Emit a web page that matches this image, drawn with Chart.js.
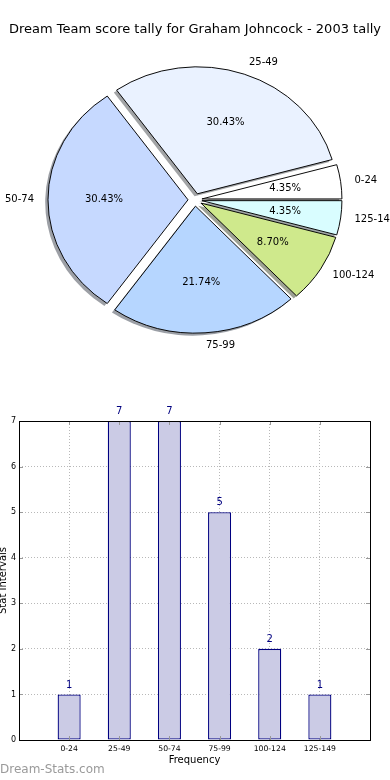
<!DOCTYPE html>
<html>
<head>
<meta charset="utf-8">
<script src="https://cdn.jsdelivr.net/npm/chart.js@4/dist/chart.umd.min.js"></script>
<style>
  body { margin: 0; background: #fff; width: 390px; height: 780px; position: relative; overflow: hidden; }
  #pieChart { position: absolute; left: 0; top: 0; }
  #barChart { position: absolute; left: 0; top: 380px; }
  .watermark { position: absolute; left: 0; top: 762px; font: 12px 'DejaVu Sans'; color: #9a9a9a; }
</style>
</head>
<body>
<canvas id="pieChart" width="390" height="362"></canvas>
<canvas id="barChart" width="390" height="400"></canvas>
<div class="watermark">Dream-Stats.com</div>
<script>
const titleText = 'Dream Team score tally for Graham Johncock - 2003 tally';
const categories = ['0-24', '25-49', '50-74', '75-99', '100-124', '125-149'];
const counts = [1, 7, 7, 5, 2, 1];
const sliceColors = ['#ffffff', '#eaf2ff', '#c6d9ff', '#b6d6ff', '#cfe98c', '#d9fdff'];
const yMax = 7;

Chart.defaults.font.family = "'DejaVu Sans'";
Chart.defaults.color = '#000';

// pie wedges go counter-clockwise from 3 o'clock, chart.js goes clockwise -> reverse
const pieLabels = categories.slice().reverse();
const pieValues = counts.slice().reverse();
const pieColors = sliceColors.slice().reverse();
const total = counts.reduce((a, b) => a + b, 0);

const SQUASH = 0.907;   // the pie is an ellipse in the original
const EXPLODE = 7;

function shadowOf(hex) {
    const n = parseInt(hex.slice(1), 16);
    const r = Math.round(((n >> 16) & 255) * 0.3);
    const g = Math.round(((n >> 8) & 255) * 0.3);
    const b = Math.round((n & 255) * 0.3);
    return `rgba(${r},${g},${b},0.5)`;
}

const piePlugin = {
    id: 'explodedPie',
    beforeDatasetsDraw(chart) {
        const ctx = chart.ctx;
        const arcs = chart.getDatasetMeta(0).data;
        const cx = arcs[0].x, cy = arcs[0].y;

        ctx.save();
        ctx.translate(cx, cy);
        ctx.scale(1, SQUASH);
        ctx.translate(-cx, -cy);

        // shadows first, under every wedge
        arcs.forEach((a, i) => {
            const mid = (a.startAngle + a.endAngle) / 2;
            const ox = Math.cos(mid) * EXPLODE - 2.8;
            const oy = Math.sin(mid) * EXPLODE + 2.8;
            ctx.fillStyle = shadowOf(pieColors[i]);
            ctx.beginPath();
            ctx.moveTo(a.x + ox, a.y + oy);
            ctx.arc(a.x + ox, a.y + oy, a.outerRadius, a.startAngle, a.endAngle);
            ctx.closePath();
            ctx.fill();
        });

        arcs.forEach(a => {
            const mid = (a.startAngle + a.endAngle) / 2;
            ctx.save();
            ctx.translate(Math.cos(mid) * EXPLODE, Math.sin(mid) * EXPLODE);
            a.draw(ctx);
            ctx.restore();
        });
        ctx.restore();

        // labels outside, percentages inside
        ctx.save();
        ctx.font = "10px 'DejaVu Sans'";
        ctx.fillStyle = '#000';
        ctx.textBaseline = 'middle';
        arcs.forEach((a, i) => {
            const mid = (a.startAngle + a.endAngle) / 2;
            const c = Math.cos(mid), s = Math.sin(mid);
            const r = a.outerRadius;
            const lx = cx + c * (EXPLODE + 1.1 * r);
            const ly = cy + s * (EXPLODE + 1.1 * r) * SQUASH;
            ctx.textAlign = c < 0 ? 'right' : 'left';
            ctx.fillText(pieLabels[i], lx, ly);

            const px = cx + c * (EXPLODE + 0.6 * r);
            const py = cy + s * (EXPLODE + 0.6 * r) * SQUASH;
            ctx.textAlign = 'center';
            ctx.fillText((pieValues[i] / total * 100).toFixed(2) + '%', px, py);
        });
        ctx.restore();
        return false;
    }
};

new Chart(document.getElementById('pieChart'), {
    type: 'pie',
    data: {
        labels: pieLabels,
        datasets: [{
            data: pieValues,
            backgroundColor: pieColors,
            borderColor: '#000',
            borderWidth: 1,
            offset: 0,
            hoverOffset: 0
        }]
    },
    options: {
        responsive: false,
        animation: false,
        events: [],
        rotation: 90,
        radius: 140,
        layout: { padding: 0 },
        plugins: {
            legend: { display: false },
            tooltip: { enabled: false },
            title: {
                display: true,
                text: titleText,
                color: '#000',
                font: { size: 13, weight: 'normal' },
                padding: { top: 22, bottom: 0 }
            }
        }
    },
    plugins: [piePlugin]
});

const barExtras = {
    id: 'barExtras',
    afterDatasetsDraw(chart) {
        const ctx = chart.ctx;
        const bars = chart.getDatasetMeta(0).data;
        ctx.save();
        ctx.font = "10px 'DejaVu Sans'";
        ctx.fillStyle = '#000080';
        ctx.textAlign = 'center';
        ctx.textBaseline = 'middle';
        bars.forEach((b, i) => {
            ctx.fillText(String(counts[i]), b.x, b.y - 9.5);
        });
        ctx.restore();
    },
    afterDraw(chart) {
        const ctx = chart.ctx;
        const { left, right, top, bottom } = chart.chartArea;
        const xs = chart.scales.x, ys = chart.scales.y;
        ctx.save();
        // small inward ticks
        ctx.strokeStyle = '#999';
        ctx.lineWidth = 1;
        ctx.beginPath();
        categories.forEach((c, i) => {
            const x = Math.round(xs.getPixelForValue(i)) + 0.5;
            ctx.moveTo(x, top); ctx.lineTo(x, top + 4);
            ctx.moveTo(x, bottom); ctx.lineTo(x, bottom - 4);
        });
        for (let v = 1; v < yMax; v++) {
            const y = Math.round(ys.getPixelForValue(v)) + 0.5;
            ctx.moveTo(left, y); ctx.lineTo(left + 4, y);
            ctx.moveTo(right, y); ctx.lineTo(right - 4, y);
        }
        ctx.stroke();
        // axes frame
        ctx.strokeStyle = '#000';
        ctx.strokeRect(Math.round(left) + 0.5, Math.round(top) + 0.5,
            Math.round(right - left), Math.round(bottom - top));
        ctx.restore();
    }
};

new Chart(document.getElementById('barChart'), {
    type: 'bar',
    data: {
        datasets: [{
            data: counts.map((c, i) => ({ x: i, y: c })),
            backgroundColor: '#cbcbe5',
            borderColor: '#000080',
            borderWidth: 1.3,
            borderSkipped: false,
            categoryPercentage: 1,
            barPercentage: 0.46
        }]
    },
    options: {
        responsive: false,
        animation: false,
        events: [],
        layout: { padding: { top: 41, right: 20, left: 0, bottom: 0 } },
        plugins: {
            legend: { display: false },
            tooltip: { enabled: false }
        },
        scales: {
            x: {
                type: 'linear',
                min: -1,
                max: categories.length,
                offset: false,
                z: 1,
                afterFit: (scale) => { scale.height = 40; },
                grid: { offset: false, color: '#b8b8b8', drawTicks: false },
                border: { display: false, dash: [1, 2] },
                ticks: {
                    stepSize: 1,
                    padding: 4,
                    font: { size: 7.7 },
                    color: '#000',
                    callback: (v) => categories[v] ?? ''
                },
                title: {
                    display: true,
                    text: 'Frequency',
                    font: { size: 10 },
                    color: '#000',
                    padding: { top: 0, bottom: 14 }
                }
            },
            y: {
                min: 0,
                max: yMax,
                z: 1,
                afterFit: (scale) => { scale.width = 19; },
                grid: { color: '#b8b8b8', drawTicks: false },
                border: { display: false, dash: [1, 2] },
                ticks: {
                    stepSize: 1,
                    padding: 3,
                    font: { size: 8 },
                    color: '#000'
                },
                title: {
                    display: true,
                    text: 'Stat Intervals',
                    font: { size: 10 },
                    color: '#000',
                    padding: { top: -2.5, bottom: 0 }
                }
            }
        }
    },
    plugins: [barExtras]
});
</script>
</body>
</html>
